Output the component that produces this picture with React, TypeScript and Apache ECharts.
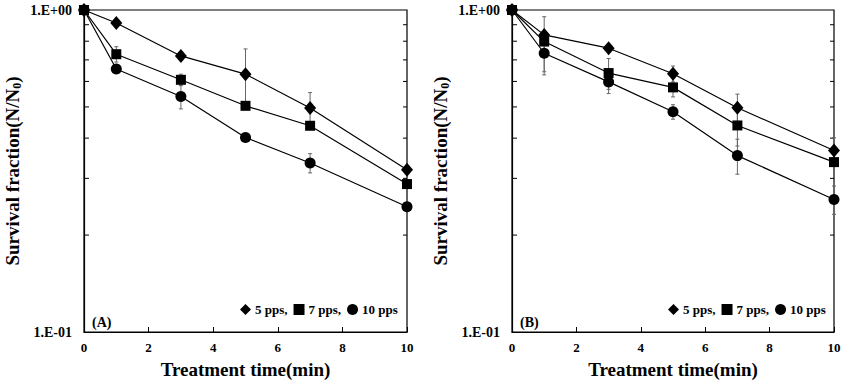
import React, { useEffect, useRef } from "react";
import * as echarts from "echarts";

const times = [0, 1, 3, 5, 7, 10];
const xTicks = [0, 2, 4, 6, 8, 10];
const minorTicks = [0.2, 0.3, 0.4, 0.5, 0.6, 0.7, 0.8, 0.9];
const seriesNames = ["5 pps", "7 pps", "10 pps"];
const symbols = ["diamond", "rect", "circle"];

const A5 = [1, 0.911, 0.72, 0.632, 0.496, 0.319];
const A5err = [0, 0, 0, 0.125, 0.058, 0];
const A7 = [1, 0.729, 0.607, 0.504, 0.437, 0.288];
const A7err = [0, 0.04, 0.025, 0, 0, 0];
const A10 = [1, 0.656, 0.539, 0.402, 0.335, 0.245];
const A10err = [0, 0, 0.046, 0, 0.023, 0];

const B5 = [1, 0.837, 0.761, 0.634, 0.497, 0.366];
const B5err = [0, 0, 0, 0.036, 0.051, 0.035];
const B7 = [1, 0.798, 0.637, 0.575, 0.438, 0.337];
const B7err = [0, 0.155, 0.07, 0.038, 0.06, 0];
const B10 = [1, 0.734, 0.598, 0.483, 0.353, 0.258];
const B10err = [0, 0.105, 0.048, 0.025, 0.044, 0.026];

const panels = [
  { label: "(A)", values: [A5, A7, A10], errs: [A5err, A7err, A10err] },
  { label: "(B)", values: [B5, B7, B10], errs: [B5err, B7err, B10err] },
];

const FONT = "'Liberation Serif', 'Times New Roman', serif";

export default function App() {
  const ref = useRef<HTMLDivElement>(null);
  useEffect(() => {
    if (!ref.current) return;
    const chart = echarts.init(ref.current, undefined, { renderer: "svg" });
    const grids = [
      { left: 84, top: 10, width: 323, height: 323 },
      { left: 512, top: 10, width: 322, height: 323 },
    ];
    const xAxes: any[] = [];
    const yAxes: any[] = [];
    const series: any[] = [];
    const legends: any[] = [];
    const graphics: any[] = [];
    const symbolSizes: any[] = [[12, 14], 10, 11];

    panels.forEach((p, gi) => {
      xAxes.push({
        type: "value",
        gridIndex: gi,
        min: xTicks[0],
        max: xTicks[xTicks.length - 1],
        interval: 2,
        name: "Treatment time(min)",
        nameLocation: "middle",
        nameGap: 28,
        nameTextStyle: { fontFamily: FONT, fontWeight: "bold", fontSize: 19, color: "#000" },
        axisLine: { lineStyle: { color: "#000", width: 1.2 } },
        axisTick: { inside: true, length: 5, lineStyle: { color: "#000" } },
        axisLabel: { fontFamily: FONT, fontWeight: "bold", fontSize: 13, color: "#000", margin: 9 },
        splitLine: { show: false },
      });
      yAxes.push({
        type: "log",
        logBase: 10,
        gridIndex: gi,
        min: 0.1,
        max: 1,
        name: "Survival fraction(N/N{sub|0})",
        nameLocation: "middle",
        nameRotate: 90,
        nameGap: 61,
        nameTextStyle: {
          fontFamily: FONT,
          fontWeight: "bold",
          fontSize: 19,
          color: "#000",
          rich: {
            sub: { fontFamily: FONT, fontWeight: "bold", fontSize: 12, color: "#000", verticalAlign: "bottom", padding: [9, 0, 0, 0] },
          },
        },
        axisLine: { show: true, lineStyle: { color: "#000", width: 1.2 } },
        axisTick: { show: false },
        axisLabel: {
          fontFamily: FONT,
          fontWeight: "bold",
          fontSize: 14,
          color: "#000",
          margin: 12,
          formatter: (v: number) => {
            const e = Math.round(Math.log10(v));
            return "1.E" + (e < 0 ? "-" : "+") + String(Math.abs(e)).padStart(2, "0");
          },
        },
        splitLine: { show: false },
      });

      // minor ticks on both vertical sides
      series.push({
        type: "custom",
        name: "ticks" + gi,
        xAxisIndex: gi,
        yAxisIndex: gi,
        silent: true,
        z: 1,
        data: minorTicks.map((v) => [xTicks[0], v]),
        encode: { x: 0, y: 1 },
        renderItem: (params: any, api: any) => {
          const v = api.value(1);
          const pl = api.coord([xTicks[0], v]);
          const pr = api.coord([xTicks[xTicks.length - 1], v]);
          return {
            type: "group",
            children: [
              { type: "line", shape: { x1: pl[0], y1: pl[1], x2: pl[0] + 5, y2: pl[1] }, style: { stroke: "#000", lineWidth: 1 } },
              { type: "line", shape: { x1: pr[0] - 4, y1: pr[1], x2: pr[0], y2: pr[1] }, style: { stroke: "#000", lineWidth: 1 } },
            ],
          };
        },
      });

      p.values.forEach((vals, si) => {
        const errs = p.errs[si];
        series.push({
          type: "custom",
          name: "err" + gi + si,
          xAxisIndex: gi,
          yAxisIndex: gi,
          silent: true,
          z: 2,
          data: times.map((t, i) => [t, vals[i], errs[i]]).filter((d) => d[2] > 0),
          encode: { x: 0, y: 1 },
          renderItem: (params: any, api: any) => {
            const x = api.value(0);
            const y = api.value(1);
            const e = api.value(2);
            const top = api.coord([x, y + e]);
            const bot = api.coord([x, y - e]);
            const st = { stroke: "#666", lineWidth: 1 };
            return {
              type: "group",
              children: [
                { type: "line", shape: { x1: top[0], y1: top[1], x2: bot[0], y2: bot[1] }, style: st },
                { type: "line", shape: { x1: top[0] - 2, y1: top[1], x2: top[0] + 2, y2: top[1] }, style: st },
                { type: "line", shape: { x1: bot[0] - 2, y1: bot[1], x2: bot[0] + 2, y2: bot[1] }, style: st },
              ],
            };
          },
        });
        series.push({
          type: "line",
          name: seriesNames[si],
          xAxisIndex: gi,
          yAxisIndex: gi,
          z: 3,
          data: times.map((t, i) => [t, vals[i]]),
          symbol: symbols[si],
          symbolSize: symbolSizes[si],
          showAllSymbol: true,
          lineStyle: { color: "#000", width: 1.2 },
          itemStyle: { color: "#000" },
          color: "#000",
        });
      });

      legends.push({
        left: gi === 0 ? 240 : 668,
        top: 303,
        orient: "horizontal",
        padding: 0,
        itemGap: 6,
        itemWidth: 11,
        itemHeight: 11,
        selectedMode: false,
        data: seriesNames.map((n, i) => ({ name: n, icon: symbols[i] })),
        formatter: (name: string) => (name === seriesNames[seriesNames.length - 1] ? name : name + ","),
        textStyle: { fontFamily: FONT, fontWeight: "bold", fontSize: 13, color: "#000", padding: [0, 0, 0, -1] },
      });

      graphics.push({
        type: "text",
        left: gi === 0 ? 92 : 520,
        top: 315,
        style: { text: p.label, font: "bold 14px " + FONT, fill: "#000" },
      });
    });

    chart.setOption({
      animation: false,
      backgroundColor: "#fff",
      grid: grids.map((g) => ({ ...g, show: true, borderColor: "#000", borderWidth: 1.2, backgroundColor: "transparent" })),
      xAxis: xAxes,
      yAxis: yAxes,
      legend: legends,
      graphic: graphics,
      series,
    });
    return () => chart.dispose();
  }, []);
  return <div ref={ref} style={{ position: "absolute", left: 0, top: 0, width: 848, height: 384 }} />;
}
